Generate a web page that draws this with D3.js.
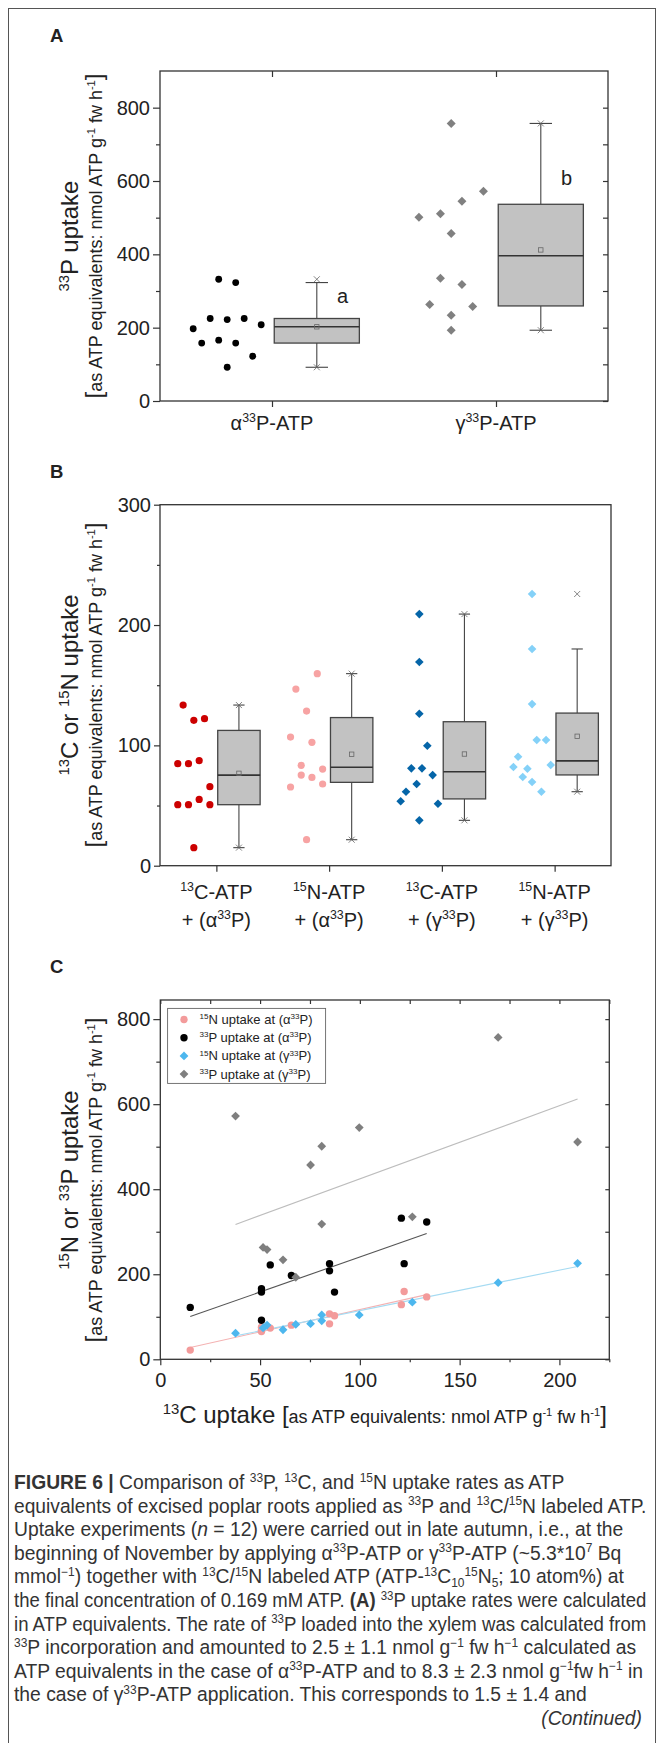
<!DOCTYPE html>
<html>
<head>
<meta charset="utf-8">
<script src="https://cdn.jsdelivr.net/npm/d3@7"></script>
<style>
body { margin: 0; background: #fff; }
text { font-family: "Liberation Sans", Arial, sans-serif; white-space: pre; fill: #222; }
</style>
</head>
<body>
<div id="fig"></div>
<script>
// ---- DATA ----
// panel A: 33P uptake, values grouped the way the points are binned in the plot
var aCats = ["α^{33}P-ATP", "γ^{33}P-ATP"];
var aAlphaBins = [[92], [158, 166, 158, 122], [197, 225, 222, 225, 208], [332, 323]];
var aGammaBins = [[193], [263, 234, 258], [335, 318], [457], [501, 511, 545, 572], [757]];
var aLetters = ["a", "b"],
    aLetterVals = [267, 589];
var aTicks = [0, 200, 400, 600, 800],
    aMinor = [100, 300, 500, 700];

// panel B: 13C / 15N uptake
var bCats = [["^{13}C-ATP", "+ (α^{33}P)"], ["^{15}N-ATP", "+ (α^{33}P)"],
             ["^{13}C-ATP", "+ (γ^{33}P)"], ["^{15}N-ATP", "+ (γ^{33}P)"]];
var bC13AlphaBins = [[15], [50.7, 50.7, 55.1, 50.7], [84.8, 84.8, 87.3, 65.7], [133.5, 120.8, 122.2]];
var bN15AlphaBins = [[21.6], [65.4, 75.3, 73.4, 67.9], [106.9, 83.4, 102.5, 80.3], [146.8, 128.5, 159.6]];
var bC13GammaBins = [[37.7], [53.5, 61.5, 80.9, 67.9, 80.9, 99.7, 75.3, 51.5], [126.3], [169.3], [209.1]];
var bN15GammaBins = [[82.0, 90.6, 73.7, 80.6, 69.5, 104.4, 61.5, 104.4, 83.7], [134.3], [180.1], [225.8]];
var bTicks = [0, 100, 200, 300],
    bMinor = [50, 150, 250];

// panel C: per sample pairs (13C uptake vs 15N / 33P uptake)
var cAlpha13C = [15, 50.7, 50.7, 50.7, 55.1, 65.7, 84.8, 84.8, 87.3, 120.8, 122.2, 133.5];
var cAlpha15N = [21.6, 65.4, 67.9, 75.3, 73.4, 80.3, 106.9, 83.4, 102.5, 128.5, 159.6, 146.8];
var cAlpha33P = [122, 166, 158, 92, 222, 197, 225, 208, 158, 332, 225, 323];
var cGamma13C = [37.7, 51.5, 53.5, 61.5, 67.9, 75.3, 80.9, 80.9, 99.7, 126.3, 169.3, 209.1];
var cGamma15N = [61.5, 73.7, 80.6, 69.5, 82.0, 83.7, 104.4, 90.6, 104.4, 134.3, 180.1, 225.8];
var cGamma33P = [572, 263, 258, 234, 193, 457, 501, 318, 545, 335, 757, 511];
var cLegend = ["^{15}N uptake at (α^{33}P)", "^{33}P uptake at (α^{33}P)",
               "^{15}N uptake at (γ^{33}P)", "^{33}P uptake at (γ^{33}P)"];
var cXTicks = [0, 50, 100, 150, 200],
    cXMinor = [25, 75, 125, 175, 225],
    cYTicks = [0, 200, 400, 600, 800],
    cYMinor = [100, 300, 500, 700];

var caption = [
  "!{FIGURE 6 |} Comparison of ^{33}P, ^{13}C, and ^{15}N uptake rates as ATP",
  "equivalents of excised poplar roots applied as ^{33}P and ^{13}C/^{15}N labeled ATP.",
  "Uptake experiments (~{n} = 12) were carried out in late autumn, i.e., at the",
  "beginning of November by applying α^{33}P-ATP or γ^{33}P-ATP (~5.3*10^{7} Bq",
  "mmol^{−1}) together with ^{13}C/^{15}N labeled ATP (ATP-^{13}C_{10}^{15}N_{5}; 10 atom%) at",
  "the final concentration of 0.169 mM ATP. !{(A)} ^{33}P uptake rates were calculated",
  "in ATP equivalents. The rate of ^{33}P loaded into the xylem was calculated from",
  "^{33}P incorporation and amounted to 2.5 ± 1.1 nmol g^{−1} fw h^{−1} calculated as",
  "ATP equivalents in the case of α^{33}P-ATP and to 8.3 ± 2.3 nmol g^{−1}fw h^{−1} in",
  "the case of γ^{33}P-ATP application. This corresponds to 1.5 ± 1.4 and"
];
var captionEnd = "~{(Continued)}";

var unitTitle = "#{[}as ATP equivalents: nmol ATP g^{-1} fw h^{-1}#{]}";

// ---- HELPERS ----
// ^{} sup, _{} sub, !{} bold, ~{} italic, #{} big, &{} big sup
function rich(sel, str, size, big) {
  big = big || size * 1.33;
  var parts = str.split(/([\^_!~#&]\{[^}]*\})/).filter(function(s) { return s.length; });
  var shift = 0;
  parts.forEach(function(p) {
    var kind = null, t = p;
    if (/^[\^_!~#&]\{/.test(p)) { kind = p[0]; t = p.slice(2, -1); }
    var fs = size, target = 0;
    if (kind === "^") { fs = size * 0.62; target = -size * 0.38; }
    if (kind === "_") { fs = size * 0.62; target = size * 0.2; }
    if (kind === "#") fs = big;
    if (kind === "&") { fs = big * 0.62; target = -big * 0.38; }
    var ts = sel.append("tspan").text(t).attr("font-size", fs).attr("dy", target - shift);
    if (kind === "!") ts.attr("font-weight", "bold");
    if (kind === "~") ts.attr("font-style", "italic");
    shift = target;
  });
  return sel;
}

function axis(g, gen, tx, ty) {
  var a = g.append("g").attr("transform", "translate(" + tx + "," + ty + ")").call(gen);
  a.select(".domain").remove();
  a.selectAll("line").attr("stroke", "#333").attr("stroke-width", 1.2);
  a.selectAll("text").attr("font-size", 20).attr("fill", "#222");
  return a;
}

function diamond(x, y, r) {
  return "M" + x + "," + (y - r) + "L" + (x + r) + "," + y + "L" + x + "," + (y + r) + "L" + (x - r) + "," + y + "Z";
}

// spread values of one bin side by side around cx
function drawBins(g, bins, cx, y, step, maxSpan, shape, r, color) {
  var pts = [];
  bins.forEach(function(bin) {
    var n = bin.length, s = n > 1 ? Math.min(step, maxSpan / (n - 1)) : 0;
    bin.forEach(function(v, i) { pts.push({ x: cx + (i - (n - 1) / 2) * s, v: v }); });
  });
  if (shape === "circle") {
    g.selectAll(null).data(pts).join("circle")
      .attr("cx", function(d) { return d.x; }).attr("cy", function(d) { return y(d.v); })
      .attr("r", r).attr("fill", color);
  } else {
    g.selectAll(null).data(pts).join("path")
      .attr("d", function(d) { return diamond(d.x, y(d.v), r); }).attr("fill", color);
  }
}

// Origin style percentile, (n+1)p
function pct(s, p) {
  var n = s.length, h = (n + 1) * p, lo = Math.floor(h);
  if (lo < 1) return s[0];
  if (lo >= n) return s[n - 1];
  return s[lo - 1] + (h - lo) * (s[lo] - s[lo - 1]);
}

function drawBox(g, values, cx, y, w, capW) {
  var s = values.slice().sort(d3.ascending);
  var q1 = pct(s, 0.25), q3 = pct(s, 0.75), med = pct(s, 0.5), iqr = q3 - q1;
  var lo = d3.min(s.filter(function(v) { return v >= q1 - 1.5 * iqr; }));
  var hi = d3.max(s.filter(function(v) { return v <= q3 + 1.5 * iqr; }));
  var b = g.append("g").attr("stroke", "#444").attr("fill", "none");
  b.append("line").attr("x1", cx).attr("x2", cx).attr("y1", y(hi)).attr("y2", y(q3)).attr("stroke-width", 1.1);
  b.append("line").attr("x1", cx).attr("x2", cx).attr("y1", y(q1)).attr("y2", y(lo)).attr("stroke-width", 1.1);
  [hi, lo].forEach(function(v) {
    b.append("line").attr("x1", cx - capW / 2).attr("x2", cx + capW / 2)
      .attr("y1", y(v)).attr("y2", y(v)).attr("stroke-width", 1.1);
  });
  b.append("rect").attr("x", cx - w / 2).attr("y", y(q3)).attr("width", w).attr("height", y(q1) - y(q3))
    .attr("fill", "#c2c2c2").attr("stroke-width", 1.3);
  b.append("line").attr("x1", cx - w / 2).attr("x2", cx + w / 2).attr("y1", y(med)).attr("y2", y(med))
    .attr("stroke", "#333").attr("stroke-width", 1.6);
  var m = y(d3.mean(s));
  b.append("rect").attr("x", cx - 2.2).attr("y", m - 2.2).attr("width", 4.4).attr("height", 4.4)
    .attr("stroke", "#666").attr("stroke-width", 0.8);
  [s[0], s[s.length - 1]].forEach(function(v) {
    var yy = y(v);
    b.append("path").attr("d", "M" + (cx - 3) + "," + (yy - 3) + "L" + (cx + 3) + "," + (yy + 3) +
      "M" + (cx - 3) + "," + (yy + 3) + "L" + (cx + 3) + "," + (yy - 3))
      .attr("stroke", "#666").attr("stroke-width", 0.8);
  });
}

function frame(g, x, y) {
  g.append("rect").attr("x", x.range()[0]).attr("y", y.range()[1])
    .attr("width", x.range()[1] - x.range()[0]).attr("height", y.range()[0] - y.range()[1])
    .attr("fill", "none").attr("stroke", "#333").attr("stroke-width", 1.3);
}

function yTitle(g, line1, cy) {
  rich(g.append("text").attr("transform", "translate(78," + cy + ") rotate(-90)")
    .attr("text-anchor", "middle"), line1, 24);
  rich(g.append("text").attr("transform", "translate(102," + cy + ") rotate(-90)")
    .attr("text-anchor", "middle"), unitTitle, 18, 24);
}

function fit(xs, ys) {
  var mx = d3.mean(xs), my = d3.mean(ys);
  var b = d3.sum(xs, function(x, i) { return (x - mx) * (ys[i] - my); }) /
          d3.sum(xs, function(x) { return (x - mx) * (x - mx); });
  var a = my - b * mx, ext = d3.extent(xs);
  return ext.map(function(x) { return [x, a + b * x]; });
}

// ---- SVG ----
var svg = d3.select("#fig").append("svg")
  .attr("width", 657).attr("height", 1743).style("display", "block");
svg.append("rect").attr("width", 657).attr("height", 1743).attr("fill", "#fff");
svg.append("rect").attr("x", 8.5).attr("y", 8.5).attr("width", 647).attr("height", 1760)
  .attr("fill", "none").attr("stroke", "#555").attr("stroke-width", 1);

// panel letters
[["A", 42], ["B", 478], ["C", 973]].forEach(function(l) {
  svg.append("text").attr("x", 50).attr("y", l[1]).attr("font-size", 18.5)
    .attr("font-weight", "bold").text(l[0]);
});

// PANEL A
var xA = d3.scaleLinear().domain([0.5, 2.5]).range([160, 608]);
var yA = d3.scaleLinear().domain([0, 900]).range([401, 71]);
var gA = svg.append("g");
axis(gA, d3.axisLeft(yA).tickValues(aTicks).tickSize(7).tickPadding(3), 160, 0);
axis(gA, d3.axisLeft(yA).tickValues(aMinor).tickSize(4).tickFormat(""), 160, 0);
axis(gA, d3.axisLeft(yA).tickValues(aTicks.concat(aMinor)).tickSize(5).tickFormat(""), 608, 0);
axis(gA, d3.axisBottom(xA).tickValues([1, 2]).tickSize(6).tickFormat(""), 0, 401);
axis(gA, d3.axisBottom(xA).tickValues([1, 2]).tickSize(6).tickFormat(""), 0, 71);
frame(gA, xA, yA);
aCats.forEach(function(c, i) {
  rich(gA.append("text").attr("x", xA(i + 1)).attr("y", 430).attr("text-anchor", "middle"), c, 20);
});
drawBins(gA, aAlphaBins, xA(0.8), yA, 17, 999, "circle", 3.4, "#000");
drawBins(gA, aGammaBins, xA(1.8), yA, 21.5, 999, "diamond", 4.5, "#808080");
var boxWA = xA(1.38) - xA(1), capWA = xA(1.1) - xA(1);
drawBox(gA, aAlphaBins.flat(), xA(1.2), yA, boxWA, capWA);
drawBox(gA, aGammaBins.flat(), xA(2.2), yA, boxWA, capWA);
aLetters.forEach(function(l, i) {
  gA.append("text").attr("x", xA(i + 1.315)).attr("y", yA(aLetterVals[i]))
    .attr("text-anchor", "middle").attr("font-size", 20).text(l);
});
yTitle(gA, "^{33}P uptake", 236);

// PANEL B
var xB = d3.scaleLinear().domain([0.5, 4.5]).range([160, 611]);
var yB = d3.scaleLinear().domain([0, 300]).range([865.7, 504.7]);
var gB = svg.append("g");
axis(gB, d3.axisLeft(yB).tickValues(bTicks).tickSize(6).tickPadding(3), 160, 0);
axis(gB, d3.axisLeft(yB).tickValues(bMinor).tickSize(3).tickFormat(""), 160, 0);
axis(gB, d3.axisBottom(xB).tickValues([1, 2, 3, 4]).tickSize(6).tickFormat(""), 0, 865.7);
frame(gB, xB, yB);
bCats.forEach(function(c, i) {
  rich(gB.append("text").attr("x", xB(i + 1)).attr("y", 899).attr("text-anchor", "middle"), c[0], 20);
  rich(gB.append("text").attr("x", xB(i + 1)).attr("y", 926.7).attr("text-anchor", "middle"), c[1], 20);
});
var bSeries = [
  { bins: bC13AlphaBins, shape: "circle", r: 3.6, color: "#cc0000" },
  { bins: bN15AlphaBins, shape: "circle", r: 3.6, color: "#f7a3a3" },
  { bins: bC13GammaBins, shape: "diamond", r: 4.3, color: "#0565a8" },
  { bins: bN15GammaBins, shape: "diamond", r: 4.3, color: "#84d1f8" }
];
var boxWB = xB(1.376) - xB(1), capWB = xB(1.1) - xB(1);
bSeries.forEach(function(s, i) {
  drawBins(gB, s.bins, xB(i + 0.8), yB, 10.7, 37.3, s.shape, s.r, s.color);
  drawBox(gB, s.bins.flat(), xB(i + 1.2), yB, boxWB, capWB);
});
yTitle(gB, "^{13}C or ^{15}N uptake", 685);

// PANEL C
var xC = d3.scaleLinear().domain([0, 225]).range([160.3, 609.3]);
var yC = d3.scaleLinear().domain([0, 845]).range([1359.3, 1000]);
var gC = svg.append("g");
axis(gC, d3.axisLeft(yC).tickValues(cYTicks).tickSize(7).tickPadding(3), 160.3, 0);
axis(gC, d3.axisLeft(yC).tickValues(cYMinor).tickSize(4).tickFormat(""), 160.3, 0);
axis(gC, d3.axisLeft(yC).tickValues(cYTicks.concat(cYMinor)).tickSize(4).tickFormat(""), 609.3, 0);
axis(gC, d3.axisBottom(xC).tickValues(cXTicks).tickSize(6).tickPadding(8), 0, 1359.3);
axis(gC, d3.axisBottom(xC).tickValues(cXMinor).tickSize(3).tickFormat(""), 0, 1359.3);
axis(gC, d3.axisBottom(xC).tickValues(cXTicks.concat(cXMinor)).tickSize(4).tickFormat(""), 0, 1000);
frame(gC, xC, yC);

var cSeries = [
  { xs: cAlpha13C, ys: cAlpha15N, shape: "circle", r: 3.7, color: "#f39b9b", line: "#f4b2b2" },
  { xs: cAlpha13C, ys: cAlpha33P, shape: "circle", r: 3.7, color: "#000", line: "#555" },
  { xs: cGamma13C, ys: cGamma15N, shape: "diamond", r: 4.4, color: "#4db7ee", line: "#a6dbf2" },
  { xs: cGamma13C, ys: cGamma33P, shape: "diamond", r: 4.4, color: "#7f7f7f", line: "#bdbdbd" }
];
var line = d3.line().x(function(d) { return xC(d[0]); }).y(function(d) { return yC(d[1]); });
cSeries.forEach(function(s) {
  gC.append("path").attr("d", line(fit(s.xs, s.ys))).attr("fill", "none")
    .attr("stroke", s.line).attr("stroke-width", 1.1);
});
cSeries.forEach(function(s) {
  var pts = s.xs.map(function(x, i) { return [x, s.ys[i]]; });
  if (s.shape === "circle") {
    gC.selectAll(null).data(pts).join("circle")
      .attr("cx", function(d) { return xC(d[0]); }).attr("cy", function(d) { return yC(d[1]); })
      .attr("r", s.r).attr("fill", s.color);
  } else {
    gC.selectAll(null).data(pts).join("path")
      .attr("d", function(d) { return diamond(xC(d[0]), yC(d[1]), s.r); }).attr("fill", s.color);
  }
});

// legend
var lg = gC.append("g").attr("transform", "translate(167.6,1008.4)");
lg.append("rect").attr("width", 158).attr("height", 75).attr("fill", "#fff")
  .attr("stroke", "#666").attr("stroke-width", 0.9);
cLegend.forEach(function(t, i) {
  var s = cSeries[i], ly = 11.1 + i * 18.2;
  if (s.shape === "circle") lg.append("circle").attr("cx", 16.4).attr("cy", ly).attr("r", s.r).attr("fill", s.color);
  else lg.append("path").attr("d", diamond(16.4, ly, s.r)).attr("fill", s.color);
  rich(lg.append("text").attr("x", 32).attr("y", ly + 4.6), t, 13);
});

yTitle(gC, "^{15}N or ^{33}P uptake", 1180);
rich(gC.append("text").attr("x", 384.8).attr("y", 1423).attr("text-anchor", "middle"),
  "&{13}#{C uptake [}as ATP equivalents: nmol ATP g^{-1} fw h^{-1}#{]}", 18, 24);

// CAPTION
var capG = svg.append("g");
var capY0 = 1489, capDy = 23.6, capMax = 632;
caption.forEach(function(c, i) {
  var t = capG.append("text");
  rich(t, c, 19.3);
  t.selectAll("tspan").attr("fill", "#333");
  var w = t.node().getComputedTextLength(), k = w > capMax ? capMax / w : 1;
  t.attr("transform", "translate(14," + (capY0 + i * capDy) + ") scale(" + k + ",1)");
});
var ct = capG.append("text").attr("text-anchor", "end")
  .attr("transform", "translate(642," + (capY0 + caption.length * capDy) + ")");
rich(ct, captionEnd, 19.3);
ct.selectAll("tspan").attr("fill", "#333");
</script>
</body>
</html>
